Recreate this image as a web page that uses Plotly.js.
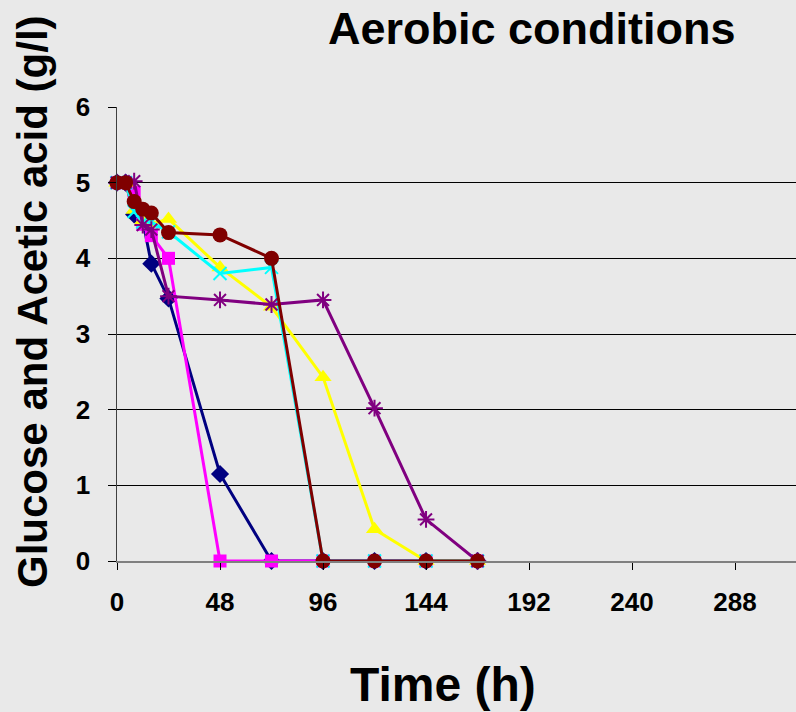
<!DOCTYPE html>
<html>
<head>
<meta charset="utf-8">
<script src="https://cdn.plot.ly/plotly-3.0.1.min.js"></script>
<style>html,body{margin:0;padding:0;background:#e9e9e9;}#chart{width:796px;height:712px;}</style>
</head>
<body>
<div id="chart"></div>
<script>
const timeH = [0, 4, 8, 12, 16, 24, 48, 72, 96, 120, 144, 168];
const seriesNavy    = [5, 5, 4.58, 4.5, 3.93, 3.47, 1.15, 0, 0, 0, 0, 0];
const seriesMagenta = [5, 5, 4.87, 4.45, 4.3, 4.0, 0, 0, 0, 0, 0, 0];
const seriesYellow  = [5, 5, 4.64, 4.5, 4.45, 4.52, 3.88, 3.36, 2.43, 0.42, 0, 0];
const seriesCyan    = [5, 5, 4.62, 4.48, 4.48, 4.35, 3.8, 3.88, 0, 0, 0, 0];
const seriesPurple  = [5, 5, 5.02, 4.44, 4.38, 3.5, 3.45, 3.39, 3.45, 2.02, 0.55, 0];
const seriesMaroon  = [5, 5, 4.75, 4.65, 4.6, 4.34, 4.31, 4.0, 0, 0, 0, 0];
const xTicks = [0, 48, 96, 144, 192, 240, 288];
const yTicks = [0, 1, 2, 3, 4, 5, 6];

const FONT = 'Liberation Sans, Arial, sans-serif';
function tr(y, color, symbol, size, lineMarker) {
  return {
    x: timeH, y: y, type: 'scatter', mode: 'lines+markers', cliponaxis: false,
    line: {color: color, width: 3},
    marker: lineMarker ? {symbol: symbol, size: size, color: color, line: {color: color, width: 2}}
                       : {symbol: symbol, size: size, color: color, line: {width: 0}},
    showlegend: false
  };
}
const data = [
  tr(seriesNavy, '#000080', 'diamond', 14, false),
  tr(seriesMagenta, '#FF00FF', 'square', 13, false),
  tr(seriesYellow, '#FFFF00', 'triangle-up', 15, false),
  tr(seriesCyan, '#00FFFF', 'x-thin-open', 13, true),
  tr(seriesPurple, '#800080', 'asterisk-open', 14, true),
  tr(seriesMaroon, '#800000', 'circle', 15, false)
];
const layout = {
  width: 796, height: 712,
  margin: {l: 117, r: 0, t: 107, b: 151},
  paper_bgcolor: '#e9e9e9', plot_bgcolor: 'rgba(0,0,0,0)',
  font: {family: FONT, color: '#000'},
  xaxis: {
    range: [0, 316.4], tickvals: xTicks, ticktext: xTicks.map(String),
    showgrid: false, zeroline: false, showline: true, linecolor: '#808080', linewidth: 2,
    ticks: 'outside', ticklen: 7, tickcolor: '#000', tickwidth: 1,
    tickfont: {family: FONT, size: 26, weight: 'bold', color: '#000'},
    ticklabelstandoff: 10
  },
  yaxis: {
    range: [0, 6], tickvals: yTicks, ticktext: yTicks.map(String),
    showgrid: true, gridcolor: '#000', gridwidth: 1, zeroline: false,
    showline: true, linecolor: '#404040', linewidth: 1.5,
    ticks: 'outside', ticklen: 8, tickcolor: '#000', tickwidth: 1,
    tickfont: {family: FONT, size: 26, weight: 'bold', color: '#000'},
    ticklabelstandoff: 12
  },
  annotations: [
    {text: 'Glucose and Acetic acid (g/l)', xref: 'paper', yref: 'paper', x: (32 - 117) / 679, y: (561 - 302) / 454,
     xanchor: 'center', yanchor: 'middle', textangle: -90, showarrow: false,
     font: {family: FONT, size: 42, weight: 'bold', color: '#000'}},
    {text: 'Time (h)', xref: 'paper', yref: 'paper', x: (443 - 117) / 679, y: (561 - 684) / 454,
     xanchor: 'center', yanchor: 'middle', showarrow: false,
     font: {family: FONT, size: 48, weight: 'bold', color: '#000'}},
    {text: 'Aerobic conditions', xref: 'paper', yref: 'paper', x: (532 - 117) / 679, y: (561 - 28) / 454,
     xanchor: 'center', yanchor: 'middle', showarrow: false,
     font: {family: FONT, size: 45, weight: 'bold', color: '#000'}}
  ]
};
Plotly.newPlot('chart', data, layout, {displayModeBar: false, staticPlot: true});
</script>
</body>
</html>
